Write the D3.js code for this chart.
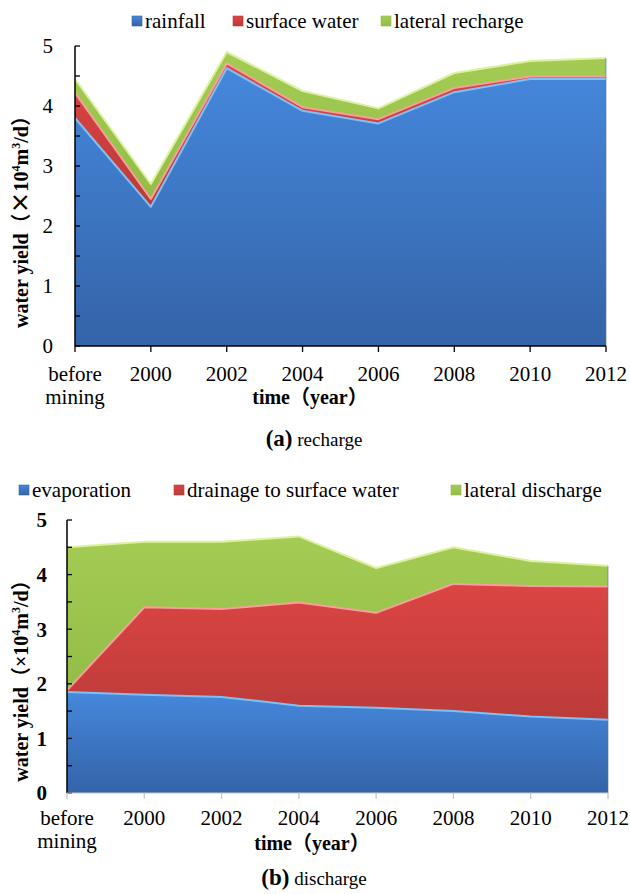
<!DOCTYPE html>
<html>
<head>
<meta charset="utf-8">
<script src="https://cdn.jsdelivr.net/npm/d3@7/dist/d3.min.js"></script>
<style>
  html, body { margin: 0; padding: 0; background: #fff; }
  svg { display: block; }
</style>
</head>
<body>
<svg id="chart" width="630" height="894" font-family="'Liberation Serif', 'Times New Roman', 'Noto Sans CJK SC', serif"></svg>
<script>
// Time steps shared by both panels
const categories = ["before mining", "2000", "2002", "2004", "2006", "2008", "2010", "2012"];
const yTicks = [0, 1, 2, 3, 4, 5];

// (a) recharge, 10^4 m3/d
const rechargeKeys = ["rainfall", "surface water", "lateral recharge"];
const rainfall        = [3.80, 2.32, 4.63, 3.92, 3.71, 4.23, 4.45, 4.45];
const surfaceWater    = [0.42, 0.13, 0.08, 0.06, 0.07, 0.07, 0.04, 0.04];
const lateralRecharge = [0.23, 0.25, 0.19, 0.27, 0.18, 0.25, 0.26, 0.31];

// (b) discharge, 10^4 m3/d
const dischargeKeys = ["evaporation", "drainage to surface water", "lateral discharge"];
const evaporation      = [1.85, 1.80, 1.76, 1.60, 1.56, 1.50, 1.40, 1.34];
const drainage         = [0.03, 1.60, 1.61, 1.89, 1.74, 2.33, 2.39, 2.44];
const lateralDischarge = [2.62, 1.20, 1.23, 1.21, 0.82, 0.67, 0.46, 0.38];

const svg = d3.select("#chart");
const defs = svg.append("defs");

// layer palettes: top / bottom of fill gradient, edge highlight
const palette = [
  { top: "#4588dc", bottom: "#3463a8", edge: "#80c0f4" },
  { top: "#dc4544", bottom: "#bb3b39", edge: "#f6a099" },
  { top: "#a4cc55", bottom: "#93bd47", edge: "#dcf29e" }
];
palette.forEach((p, i) => {
  const g = defs.append("linearGradient")
    .attr("id", "grad" + i).attr("x1", 0).attr("y1", 0).attr("x2", 0).attr("y2", 1);
  g.append("stop").attr("offset", "0%").attr("stop-color", p.top);
  g.append("stop").attr("offset", "100%").attr("stop-color", p.bottom);
});
defs.append("filter").attr("id", "soft")
  .append("feGaussianBlur").attr("stdDeviation", 0.6);

function buildRows(keys, series) {
  return categories.map((c, i) => {
    const row = { cat: c };
    keys.forEach((k, j) => row[k] = series[j][i]);
    return row;
  });
}

function drawPanel(opt) {
  const x = d3.scalePoint().domain(categories).range([opt.left, opt.right]).padding(0);
  const y = d3.scaleLinear().domain([0, 5]).range([opt.bottom, opt.top]);
  const rows = buildRows(opt.keys, opt.series);
  const stacked = d3.stack().keys(opt.keys)(rows);

  const area = d3.area()
    .x(d => x(d.data.cat)).y0(d => y(d[0])).y1(d => y(d[1]));
  const topLine = d3.line().x(d => x(d.data.cat)).y(d => y(d[1]));

  const g = svg.append("g");
  stacked.forEach((layer, i) => {
    g.append("path").attr("d", area(layer))
      .attr("fill", "url(#grad" + i + ")");
  });
  stacked.forEach((layer, i) => {
    g.append("path").attr("d", topLine(layer))
      .attr("fill", "none")
      .attr("stroke", palette[i].edge)
      .attr("stroke-width", 2)
      .attr("stroke-linejoin", "round")
      .attr("filter", "url(#soft)");
  });
  // thin shaded right edge
  g.append("line")
    .attr("x1", opt.right).attr("x2", opt.right)
    .attr("y1", y(d3.sum(opt.series, s => s[s.length - 1]))).attr("y2", opt.bottom)
    .attr("stroke", "#5a6f86").attr("stroke-width", 1).attr("opacity", 0.6);

  // y axis with inward ticks every 0.5
  const yMinor = d3.range(0, 5.01, 0.5);
  const ya = svg.append("g");
  ya.append("line").attr("x1", opt.left).attr("x2", opt.left)
    .attr("y1", y(5)).attr("y2", opt.bottom).attr("stroke", "#000").attr("stroke-width", 1.5);
  ya.selectAll("line.t").data(yMinor).join("line").attr("class", "t")
    .attr("x1", opt.left).attr("x2", opt.left + 5)
    .attr("y1", d => y(d)).attr("y2", d => y(d))
    .attr("stroke", "#000").attr("stroke-width", 1.3);
  ya.selectAll("text").data(yTicks).join("text")
    .attr("x", opt.left - opt.yLabelGap).attr("y", d => y(d)).attr("dy", "0.35em")
    .attr("text-anchor", "end")
    .attr("font-size", opt.yTickSize)
    .attr("font-weight", opt.yTickBold ? "bold" : "normal")
    .text(d => d);

  // x axis
  const xa = svg.append("g");
  xa.append("line").attr("x1", opt.left).attr("x2", opt.right)
    .attr("y1", opt.bottom).attr("y2", opt.bottom)
    .attr("stroke", opt.xAxisColor).attr("stroke-width", opt.xAxisWidth);
  xa.selectAll("line.t").data(categories).join("line").attr("class", "t")
    .attr("x1", d => x(d)).attr("x2", d => x(d))
    .attr("y1", opt.bottom).attr("y2", opt.bottom + 6)
    .attr("stroke", opt.xTickColor).attr("stroke-width", 1.3);
  xa.selectAll("text").data(categories).join("text")
    .attr("x", d => x(d)).attr("y", opt.xLabelY)
    .attr("text-anchor", "middle").attr("font-size", 21)
    .each(function (d) {
      const parts = d.split(" ");
      d3.select(this).selectAll("tspan").data(parts).join("tspan")
        .attr("x", x(d)).attr("dy", (p, k) => k === 0 ? 0 : 23).text(p => p);
    });

  // axis titles
  svg.append("text").attr("x", opt.xTitleX).attr("y", opt.xTitleY)
    .attr("text-anchor", "middle").attr("font-size", 20).attr("font-weight", "bold")
    .text("time（year）");

  const yt = svg.append("text")
    .attr("transform", `translate(${opt.yTitleX},${opt.yTitleY}) rotate(-90)`)
    .attr("text-anchor", "middle").attr("font-size", 20).attr("font-weight", "bold");
  yt.append("tspan").text("water yield（");
  yt.append("tspan").attr("font-family", opt.timesFont).attr("font-size", opt.timesSize).text("×");
  yt.append("tspan").text("10");
  yt.append("tspan").attr("font-size", 12).attr("dy", -8).text("4");
  yt.append("tspan").attr("dy", 8).text("m");
  yt.append("tspan").attr("font-size", 12).attr("dy", -8).text("3");
  yt.append("tspan").attr("dy", 8).text("/d）");

  // legend
  const lg = svg.append("g");
  opt.keys.forEach((k, i) => {
    const lx = opt.legendX[i];
    lg.append("rect").attr("x", lx).attr("y", opt.legendY - 5)
      .attr("width", 10).attr("height", 10)
      .attr("fill", "url(#grad" + i + ")")
      .attr("stroke", palette[i].bottom).attr("stroke-width", 0.6);
    lg.append("text").attr("x", lx + 13).attr("y", opt.legendY).attr("dy", "0.35em")
      .attr("font-size", 21).text(k);
  });

  // caption
  const cap = svg.append("text").attr("x", opt.capX).attr("y", opt.capY)
    .attr("text-anchor", "middle");
  cap.append("tspan").attr("font-weight", "bold").attr("font-size", 23).text(opt.capTag);
  cap.append("tspan").attr("font-size", 19).text(" " + opt.capText);
}

drawPanel({
  keys: rechargeKeys,
  series: [rainfall, surfaceWater, lateralRecharge],
  left: 75, right: 606, top: 46, bottom: 346,
  yTickSize: 21, yTickBold: false, yLabelGap: 22,
  xAxisColor: "#000", xAxisWidth: 1.5, xTickColor: "#000",
  xLabelY: 381, xTitleX: 310, xTitleY: 404,
  timesFont: "'Noto Sans CJK SC'", timesSize: 22, yTitleX: 28, yTitleY: 217,
  legendX: [132, 233, 381], legendY: 21,
  capX: 314, capY: 446, capTag: "(a)", capText: "recharge"
});

drawPanel({
  keys: dischargeKeys,
  series: [evaporation, drainage, lateralDischarge],
  left: 67, right: 608, top: 520, bottom: 793,
  yTickSize: 21, yTickBold: true, yLabelGap: 20,
  xAxisColor: "#c8c8c8", xAxisWidth: 1, xTickColor: "#c8c8c8",
  xLabelY: 825, xTitleX: 312, xTitleY: 850,
  timesFont: "'Liberation Serif'", timesSize: 20, yTitleX: 28, yTitleY: 676,
  legendX: [19, 174, 451], legendY: 490,
  capX: 314, capY: 885, capTag: "(b)", capText: "discharge"
});
</script>
</body>
</html>
